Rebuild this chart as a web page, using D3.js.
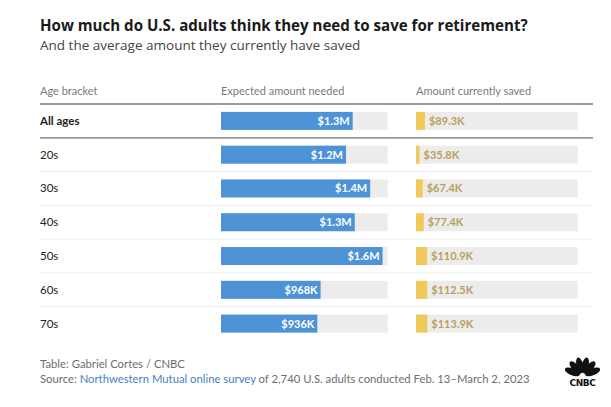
<!DOCTYPE html>
<html><head><meta charset="utf-8">
<script src="https://cdn.jsdelivr.net/npm/d3@7"></script>
<style>body{margin:0;background:#fff;}svg{display:block;font-family:Lato,"Open Sans",sans-serif;}</style>
</head><body><svg id="c" width="611" height="407"></svg>
<script>
const categories = ["All ages","20s","30s","40s","50s","60s","70s"];
const expectedNeeded = [1280000,1215000,1450000,1300000,1570000,968000,936000];
const expectedLabels = ["$1.3M","$1.2M","$1.4M","$1.3M","$1.6M","$968K","$936K"];
const currentlySaved = [89300,35800,67400,77400,110900,112500,113900];
const savedLabels = ["$89.3K","$35.8K","$67.4K","$77.4K","$110.9K","$112.5K","$113.9K"];
const columnHeaders = ["Age bracket","Expected amount needed","Amount currently saved"];

const svg = d3.select("#c");
const L = 40, R = 593;
const y = d3.scaleBand().domain(categories).range([104, 340.5]);
const xMax = 1620000;
const xNeed = d3.scaleLinear().domain([0, xMax]).range([221, 387.7]);
const xSave = d3.scaleLinear().domain([0, xMax]).range([416, 577.7]);
const barH = 18;

svg.append("text").attr("x", L).attr("y", 31).attr("font-size", 15.1).attr("font-weight", 700)
  .attr("font-family", "'Open Sans'").attr("fill", "#1a1a1a")
  .text("How much do U.S. adults think they need to save for retirement?");
svg.append("text").attr("x", L).attr("y", 50).attr("font-size", 13.5).attr("fill", "#444")
  .attr("font-family", "'Open Sans'")
  .text("And the average amount they currently have saved");

const hx = [L, 221, 416];
svg.selectAll("text.hdr").data(columnHeaders).join("text").attr("class","hdr")
  .attr("x", (d,i)=>hx[i]).attr("y", 95).attr("font-size", 11).attr("fill", "#7a7a7a").text(d=>d);

// separators
svg.append("line").attr("x1", L).attr("x2", R).attr("y1", 104).attr("y2", 104).attr("stroke", "#9a9a9a").attr("stroke-width", 1.8);
categories.slice(1).forEach((c,i)=>{
  const yy = y(c);
  svg.append("line").attr("x1", L).attr("x2", R).attr("y1", yy).attr("y2", yy)
    .attr("stroke", i===0 ? "#9a9a9a" : "#ececec").attr("stroke-width", i===0 ? 1.8 : 1);
});

const rows = svg.selectAll("g.row").data(categories).join("g").attr("class","row");
const cy = c => y(c) + y.bandwidth()/2;

rows.append("text").attr("x", L).attr("y", c=>cy(c)+4).attr("font-size", 11.5)
  .attr("font-weight", (c,i)=> i===0 ? 700 : 400).attr("fill", "#222").text(c=>c);

// backgrounds
rows.append("rect").attr("x", xNeed(0)).attr("y", c=>cy(c)-barH/2).attr("width", xNeed(xMax)-xNeed(0)).attr("height", barH).attr("fill", "#ececec");
rows.append("rect").attr("x", xSave(0)).attr("y", c=>cy(c)-barH/2).attr("width", xSave(xMax)-xSave(0)).attr("height", barH).attr("fill", "#ececec");

rows.append("rect").attr("x", xNeed(0)).attr("y", c=>cy(c)-barH/2)
  .attr("width", (c,i)=>xNeed(expectedNeeded[i])-xNeed(0)).attr("height", barH).attr("fill", "#4d93d6");
rows.append("text").attr("x", (c,i)=>xNeed(expectedNeeded[i])-3).attr("y", c=>cy(c)+4).attr("text-anchor","end")
  .attr("font-size", 11).attr("font-weight", 700).attr("fill", "#fff").text((c,i)=>expectedLabels[i]);

rows.append("rect").attr("x", xSave(0)).attr("y", c=>cy(c)-barH/2)
  .attr("width", (c,i)=>Math.max(1.5, xSave(currentlySaved[i])-xSave(0))).attr("height", barH).attr("fill", "#efc95a");
rows.append("text").attr("x", (c,i)=>xSave(0)+Math.max(1.5, xSave(currentlySaved[i])-xSave(0))+4).attr("y", c=>cy(c)+4)
  .attr("font-size", 11).attr("font-weight", 700).attr("fill", "#b9a060").text((c,i)=>savedLabels[i]);

// footer
svg.append("text").attr("x", L).attr("y", 368).attr("font-size", 11.3).attr("fill", "#6e6e6e").text("Table: Gabriel Cortes / CNBC");
const src = svg.append("text").attr("x", L).attr("y", 383).attr("font-size", 11.3).attr("fill", "#6e6e6e");
src.append("tspan").text("Source: ");
src.append("tspan").attr("fill", "#3f7fc3").text("Northwestern Mutual online survey");
src.append("tspan").text(" of 2,740 U.S. adults conducted Feb. 13\u2013March 2, 2023");

// CNBC logo
const lg = svg.append("g").attr("transform", "translate(582.5,376)");
const angles = [-68,-41,-14,14,41,68];
lg.selectAll("ellipse").data(angles).join("ellipse")
  .attr("cx", 0).attr("cy", -11).attr("rx", 3.4).attr("ry", 8)
  .attr("transform", d=>`rotate(${d})`).attr("fill", "#111");
lg.append("text").attr("x", 0).attr("y", 10).attr("text-anchor","middle").attr("font-size", 9)
  .attr("font-weight", 900).attr("font-family","'DejaVu Sans'").attr("fill","#111").attr("letter-spacing","-0.4").text("CNBC");
</script></body></html>
